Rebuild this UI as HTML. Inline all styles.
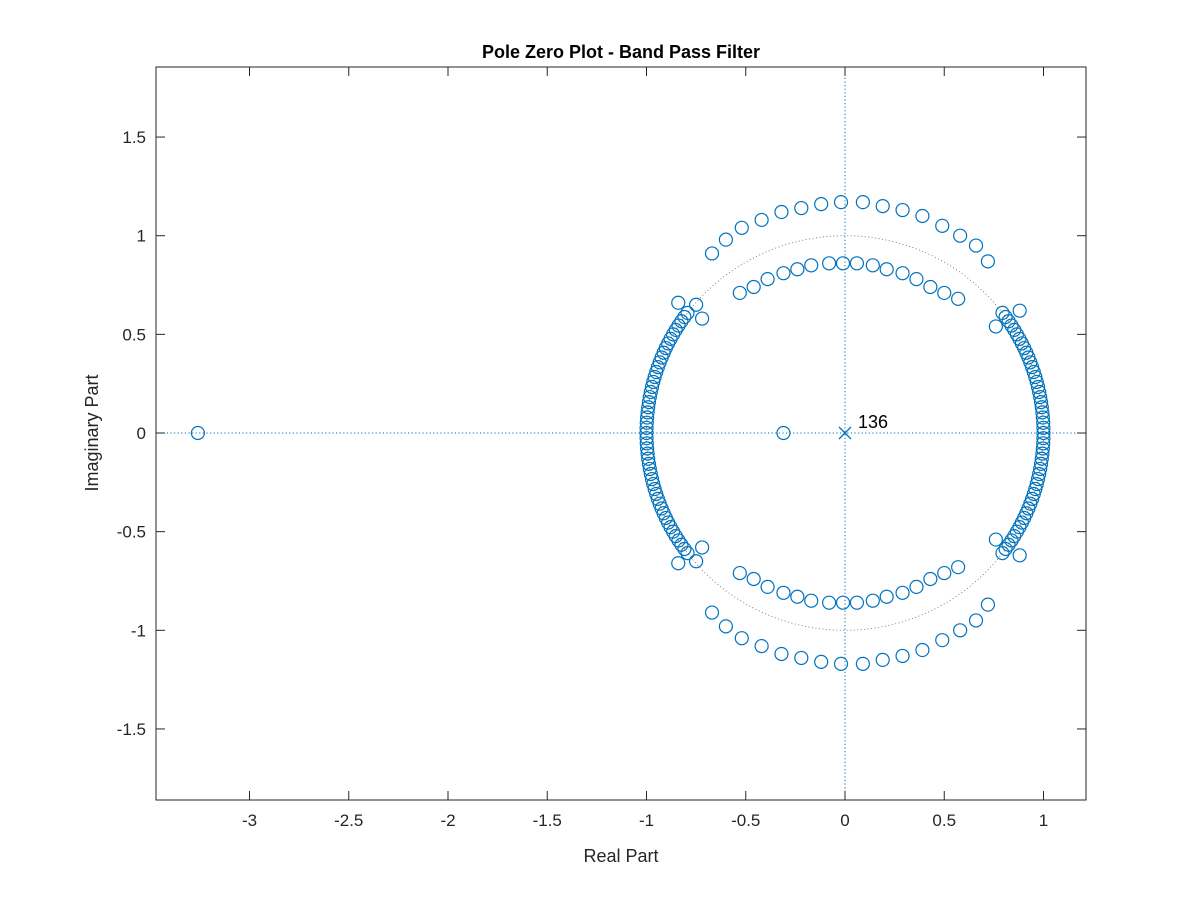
<!DOCTYPE html>
<html><head><meta charset="utf-8"><style>
html,body{margin:0;padding:0;background:#fff;}
svg{display:block;font-family:"Liberation Sans",Arial,sans-serif;}
</style></head><body>
<svg id="chart" width="1200" height="900" viewBox="0 0 1200 900">
<rect x="0" y="0" width="1200" height="900" fill="#fff"/>
<g id="grid"></g><g id="marks"></g><g id="axes"></g>
<text x="621" y="58" text-anchor="middle" font-size="18" font-weight="bold" fill="#000">Pole Zero Plot - Band Pass Filter</text>
<text x="621" y="862" text-anchor="middle" font-size="18" fill="#262626">Real Part</text>
<text x="98" y="433" text-anchor="middle" font-size="18" fill="#262626" transform="rotate(-90 98 433)">Imaginary Part</text>
</svg>
<script>
// data
const xTicks=[-3,-2.5,-2,-1.5,-1,-0.5,0,0.5,1];
const yTicks=[-1.5,-1,-0.5,0,0.5,1,1.5];
const realZeros=[-3.26,-0.31];
const outerArcRe=[-0.67,-0.60,-0.52,-0.42,-0.32,-0.22,-0.12,-0.02,0.09,0.19,0.29,0.39,0.49,0.58,0.66,0.72];
const outerArcIm=[0.91,0.98,1.04,1.08,1.12,1.14,1.16,1.17,1.17,1.15,1.13,1.10,1.05,1.00,0.95,0.87];
const innerArcRe=[-0.53,-0.46,-0.39,-0.31,-0.24,-0.17,-0.08,-0.01,0.06,0.14,0.21,0.29,0.36,0.43,0.50,0.57];
const innerArcIm=[0.71,0.74,0.78,0.81,0.83,0.85,0.86,0.86,0.86,0.85,0.83,0.81,0.78,0.74,0.71,0.68];
const leftUnitAngles=[180,178.5,177,175.5,174,172.5,171,169.5,168,166.5,165,163.5,162,160.5,159,157.5,156,154.5,153,151.5,150,148.5,147,145.5,144,142.5];
const rightUnitAngles=[0,1.5,3,4.5,6,7.5,9,10.5,12,13.5,15,16.5,18,19.5,21,22.5,24,25.5,27,28.5,30,31.5,33,34.5,36,37.5];
const extraRe=[-0.84,-0.75,-0.72,0.88,0.76];
const extraIm=[0.66,0.65,0.58,0.62,0.54];
const polesRe=[0];
const polesIm=[0];
const poleLabel="136";

const X0=845,XS=198.5,Y0=433,YS=197.3,L=156,R=1086,T=67,B=800;
const sx=v=>X0+v*XS, sy=v=>Y0-v*YS;
const NS="http://www.w3.org/2000/svg";
function mk(tag,attrs,parent){const e=document.createElementNS(NS,tag);for(const k in attrs)e.setAttribute(k,attrs[k]);parent.appendChild(e);return e;}
const grid=document.getElementById('grid'),marks=document.getElementById('marks'),axes=document.getElementById('axes');
const C="#0072BD";

let uc=mk('ellipse',{cx:sx(0),cy:sy(0),rx:XS,ry:YS,fill:'none',stroke:'#666','stroke-width':0.8,'stroke-dasharray':'1 2.5'},grid);


let hl=mk('line',{x1:L,x2:R,y1:sy(0),y2:sy(0),stroke:C,'stroke-width':1,'stroke-dasharray':'1.2 2.4'},grid);


let vl=mk('line',{x1:sx(0),x2:sx(0),y1:T,y2:B,stroke:C,'stroke-width':1,'stroke-dasharray':'1.2 2.4'},grid);



function zero(re,im){
  const c=mk('circle',{cx:sx(re),cy:sy(im),r:6.5,fill:'none',stroke:C,'stroke-width':1.2},marks);
  
  
}
realZeros.forEach(v=>zero(v,0));
function pair(re,im){zero(re,im);if(im!==0)zero(re,-im);}
outerArcRe.forEach((v,i)=>pair(v,outerArcIm[i]));
innerArcRe.forEach((v,i)=>pair(v,innerArcIm[i]));
leftUnitAngles.concat(rightUnitAngles).forEach(a=>{const t=a*Math.PI/180;pair(Math.cos(t),Math.abs(Math.sin(t))<1e-9?0:Math.sin(t));});
extraRe.forEach((v,i)=>pair(v,extraIm[i]));

polesRe.forEach((v,i)=>{
  const px=sx(v),py=sy(polesIm[i]);
  const p=mk('path',{d:`M${px-6} ${py-6}L${px+6} ${py+6}M${px-6} ${py+6}L${px+6} ${py-6}`,stroke:C,'stroke-width':1.3,fill:'none'},marks);
  
  
  const t=mk('text',{x:px+13,y:py-5,'font-size':18,fill:'#000'},marks);
  t.textContent=poleLabel;
  
  
});

let box=mk('rect',{x:L,y:T,width:R-L,height:B-T,fill:'none',stroke:'#262626','stroke-width':1},axes);


xTicks.forEach(v=>{
  const x=sx(v);
  mk('line',{x1:x,x2:x,y1:B,y2:B-9,stroke:'#262626'},axes);
  mk('line',{x1:x,x2:x,y1:T,y2:T+9,stroke:'#262626'},axes);
  const t=mk('text',{x:x,y:B+26,'text-anchor':'middle','font-size':17,fill:'#262626'},axes);
  t.textContent=String(v);
  
  
});
yTicks.forEach(v=>{
  const y=sy(v);
  mk('line',{x1:L,x2:L+9,y1:y,y2:y,stroke:'#262626'},axes);
  mk('line',{x1:R,x2:R-9,y1:y,y2:y,stroke:'#262626'},axes);
  const t=mk('text',{x:L-10,y:y+6,'text-anchor':'end','font-size':17,fill:'#262626'},axes);
  t.textContent=String(v);
  
  
});
</script>
</body></html>
